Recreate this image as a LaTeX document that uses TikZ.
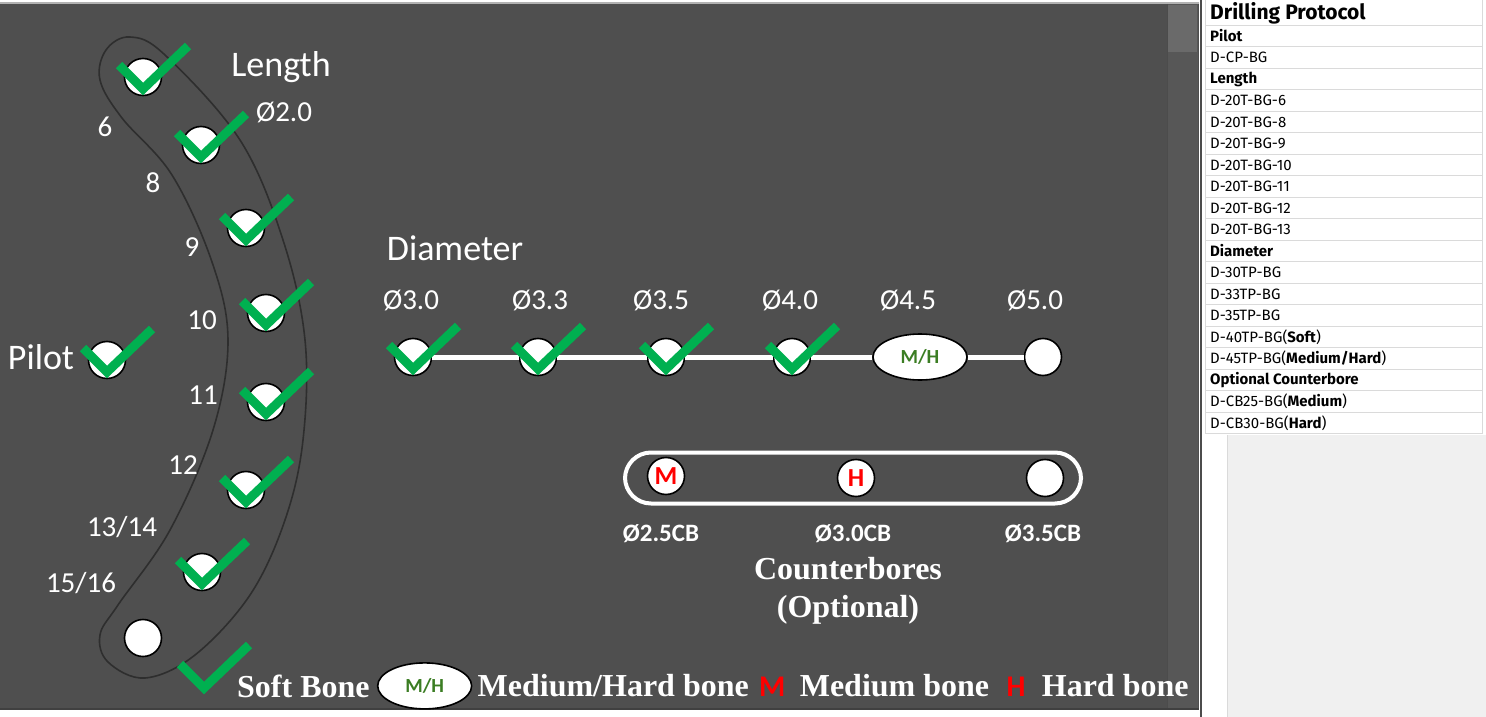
\documentclass[tikz,border=0pt]{standalone}
\usepackage{fontspec}
\setmainfont{Carlito}
\newfontfamily\timesfont{Liberation Serif}
\newfontfamily\tablefont{Fira Sans}
\usetikzlibrary{shapes.geometric,positioning}

\definecolor{panelgray}{HTML}{4F4F4F}
\definecolor{scrollgray}{HTML}{575757}
\definecolor{thumbgray}{HTML}{6A6A6A}
\definecolor{tickgreen}{HTML}{00B050}
\definecolor{mhgreen}{HTML}{3B7D23}
\definecolor{gridgray}{HTML}{DADADA}
\definecolor{bandgray}{HTML}{2E2E2E}

\begin{document}
\begin{tikzpicture}[
    x=1pt, y=-1pt,
    hole/.style={circle, draw=black, fill=white, line width=1.6pt, minimum size=37pt, inner sep=0pt},
    mhhole/.style={ellipse, draw=black, fill=white, line width=1.6pt, minimum width=94pt, minimum height=46pt, inner sep=0pt, text=mhgreen, font=\fontsize{20}{20}\selectfont\bfseries},
    tickline/.style={draw=tickgreen, line width=9pt},
    tick/.pic={\draw[tickline] (-24,-12) -- (0,12) -- (45,-31);},
    rail/.style={draw=white, line width=5pt},
    band/.style={draw=bandgray, line width=1.6pt},
    title/.style={text=white, font=\fontsize{36}{38}\selectfont},
    size/.style={text=white, font=\fontsize{29}{30}\selectfont},
    cblabel/.style={text=white, font=\fontsize{25}{26}\selectfont\bfseries},
    legtext/.style={text=white, inner sep=0pt, font=\timesfont\fontsize{32}{38}\selectfont\bfseries},
    redmark/.style={text=red, font=\fontsize{26}{26}\selectfont\bfseries},
    legmark/.style={text=red, inner sep=0pt, font=\fontsize{30}{30}\selectfont\bfseries},
    tabcell/.style={anchor=west, inner sep=0pt, font=\tablefont\fontsize{15}{16}\selectfont},
    gridline/.style={draw=gridgray, line width=0.8pt}
]
\useasboundingbox (0,0) rectangle (1486,717);

% panel and scroll bar
\fill[white] (0,0) rectangle (1486,717);
\fill[panelgray] (0,3) rectangle (1199,709);
\draw[gray!60, line width=2pt] (0,3) -- (1199,3);
\draw[black!75, line width=2pt] (0,709) -- (1199,709);
\fill[scrollgray] (1167,4) rectangle (1198,708);
\fill[thumbgray] (1168,5) rectangle (1197,52);
\draw[black!70, line width=1pt] (1167,4) -- (1167,708);
\draw[black!70, line width=2pt] (1201,0) -- (1201,717);

% length band
\draw[band] plot[smooth cycle, tension=0.6] coordinates {
    (130,37) (165,55) (240,140) (283,240) (305,340) (303,440) (285,520)
    (250,595) (195,655) (145,678) (108,662) (100,635) (118,605) (170,530)
    (213,430) (228,340) (212,262) (172,175) (122,118) (100,80) (106,50)};

% length holes
\node[hole] (l6) at (143,77) {};
\node[hole] (l8) at (201,145) {};
\node[hole] (l9) at (246,228) {};
\node[hole] (l10) at (266,313) {};
\node[hole] (l11) at (266,402) {};
\node[hole] (l12) at (246,490) {};
\node[hole] (l13) at (202,572) {};
\node[hole] (l15) at (143,638) {};
\node[hole] (pilot) at (107,360) {};

\node[size] at (105,127) {6};
\node[size] at (153,183) {8};
\node[size] at (192,247) {9};
\node[size] at (202,320) {10};
\node[size] at (203,395) {11};
\node[size] at (183,465) {12};
\node[size] at (122,527) {13/14};
\node[size] at (81,583) {15/16};

\node[title] at (281,67) {Length};
\node[size] at (284,112) {Ø2.0};
\node[title] at (41,357) {Pilot};
\node[title] at (455,248) {Diameter};

% diameter row
\node[hole] (d30) at (413,357) {};
\node[hole] (d33) at (538,357) {};
\node[hole] (d35) at (666,357) {};
\node[hole] (d40) at (792,357) {};
\node[mhhole] (d45) at (920,357) {M/H};
\node[hole] (d50) at (1043,357) {};
\foreach \a/\b in {d30/d33, d33/d35, d35/d40, d40/d45, d45/d50}
    \draw[rail] (\a.east) -- (\b.west);

\node[size] at (411,300) {Ø3.0};
\node[size] at (540,300) {Ø3.3};
\node[size] at (661,300) {Ø3.5};
\node[size] at (790,300) {Ø4.0};
\node[size] at (908,300) {Ø4.5};
\node[size] at (1035,300) {Ø5.0};

% counterbores
\node[draw=white, line width=4pt, rounded corners=26pt, minimum width=456pt, minimum height=51pt] (cbframe) at (853,478) {};
\node[hole, redmark] (cb25) at (666,476) {M};
\node[hole, redmark] (cb30) at (856,478) {H};
\node[hole] (cb35) at (1045,478) {};
\node[cblabel] at (661,534) {Ø2.5CB};
\node[cblabel] at (853,534) {Ø3.0CB};
\node[cblabel] at (1043,534) {Ø3.5CB};
\node[legtext, align=center] at (848,591) {Counterbores\\(Optional)};

% ticks
\foreach \h in {l6, l8, l9, l10, l11, l12, l13, pilot, d30, d33, d35, d40}
    \pic at (\h) {tick};

% legend
\coordinate (legtick) at (204,676);
\pic at (legtick) {tick};
\node[legtext, anchor=base west] (legsoft) at (237,697) {Soft Bone};
\node[mhhole, right=7pt of legsoft] (legmh) {M/H};
\node[legtext, right=5pt of legmh] (legmhtxt) {Medium/Hard bone};
\node[legmark, base right=10pt of legmhtxt] (legm) {M};
\node[legtext, base right=14pt of legm] (legmtxt) {Medium bone};
\node[legmark, base right=17pt of legmtxt] (legh) {H};
\node[legtext, base right=16pt of legh] (leghtxt) {Hard bone};

% drilling protocol table
\fill[gray!12] (1227,435) rectangle (1486,717);
\draw[gridline] (1227,435) -- (1227,717);
\foreach \k in {1,...,20}
    \draw[gridline] (1205,{3.5+21.5*\k}) -- (1482,{3.5+21.5*\k});
\draw[gridline] (1205,0) -- (1205,433.5);
\draw[gridline] (1482,0) -- (1482,433.5);
\node[anchor=west, inner sep=0pt, font=\tablefont\fontsize{21}{22}\selectfont\bfseries] (tabtitle) at (1210,13) {Drilling Protocol};
\foreach \txt [count=\i from 0] in {{\textbf{Pilot}}, {D-CP-BG}, {\textbf{Length}},
    {D-20T-BG-6}, {D-20T-BG-8}, {D-20T-BG-9}, {D-20T-BG-10}, {D-20T-BG-11},
    {D-20T-BG-12}, {D-20T-BG-13}, {\textbf{Diameter}}, {D-30TP-BG}, {D-33TP-BG},
    {D-35TP-BG}, {D-40TP-BG(\textbf{Soft})}, {D-45TP-BG(\textbf{Medium/Hard})},
    {\textbf{Optional Counterbore}}, {D-CB25-BG(\textbf{Medium})}, {D-CB30-BG(\textbf{Hard})}}
    \node[tabcell] (row\i) at (1210,{36+21.5*\i}) {\txt};
\end{tikzpicture}
\end{document}
